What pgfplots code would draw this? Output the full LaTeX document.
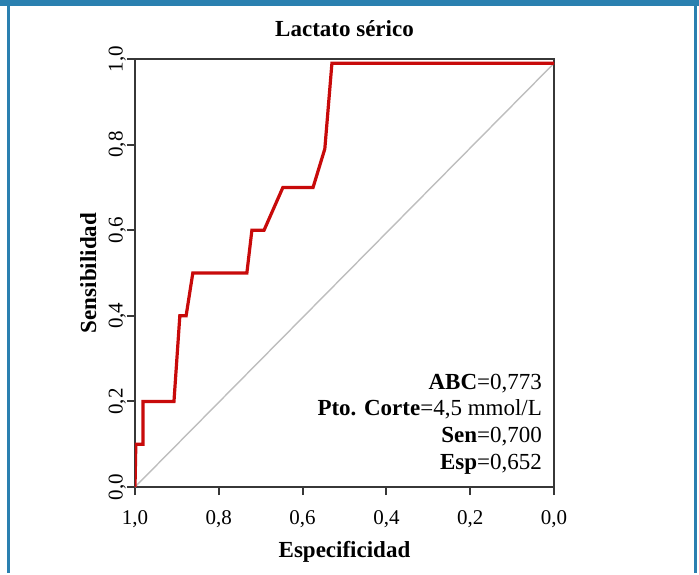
\documentclass[border=0pt]{standalone}
\usepackage{fontspec}
\setmainfont{Liberation Serif}
\usepackage{pgfplots}
\pgfplotsset{compat=1.18}
\definecolor{frameblue}{RGB}{42,128,176}
\definecolor{rocred}{RGB}{200,10,10}
\definecolor{axgray}{RGB}{55,55,55}
\begin{document}
\begin{tikzpicture}
\begin{axis}[
  scale only axis, width=209.5pt, height=214pt,
  x dir=reverse,
  xmin=0, xmax=1, ymin=0, ymax=1,
  xtick={0,0.2,0.4,0.6,0.8,1}, ytick={0,0.2,0.4,0.6,0.8,1},
  xticklabels={0{,}0,0{,}2,0{,}4,0{,}6,0{,}8,1{,}0},
  yticklabels={0{,}0,0{,}2,0{,}4,0{,}6,0{,}8,1{,}0},
  tick align=outside,
  tick pos=left,
  major tick length=4pt,
  tick style={axgray, line width=1pt},
  axis line style={axgray, line width=1pt},
  tick label style={font=\fontsize{10.5}{12}\selectfont},
  xticklabel style={anchor=north, yshift=-4pt},
  yticklabel style={rotate=90, anchor=south, yshift=-3pt},
  title={Lactato sérico},
  title style={at={(axis description cs:0.5,1.0257)}, anchor=base, font=\bfseries\fontsize{11.5}{13}\selectfont},
  xlabel={Especificidad},
  xlabel style={at={(axis description cs:0.5,-0.1636)}, anchor=base, font=\bfseries\fontsize{11.5}{13}\selectfont},
  ylabel={Sensibilidad},
  ylabel style={at={(axis description cs:-0.093,0.5)}, anchor=base, rotate=0, font=\bfseries\fontsize{11.5}{13}\selectfont},
]
\addplot[color={rgb,255:red,190;green,190;blue,190}, line width=0.7pt] coordinates {(1,0) (0,0.99)};
\addplot[rocred, line width=1.6pt, line join=miter] coordinates {
(1.000,0.000) (0.998,0.100) (0.981,0.100) (0.981,0.200) (0.907,0.200)
(0.893,0.400) (0.878,0.400) (0.862,0.500) (0.733,0.500) (0.721,0.600)
(0.692,0.600) (0.647,0.700) (0.575,0.700) (0.547,0.790) (0.530,0.990)
(0.000,0.990)};
\node[anchor=base east, font=\fontsize{11.5}{13}\selectfont] at (axis cs:0.012,0.227) {\textbf{ABC}=0,773};
\node[anchor=base east, font=\fontsize{11.5}{13}\selectfont] at (axis cs:0.012,0.166) {\textbf{Pto. Corte}=4,5 mmol/L};
\node[anchor=base east, font=\fontsize{11.5}{13}\selectfont] at (axis cs:0.012,0.103) {\textbf{Sen}=0,700};
\node[anchor=base east, font=\fontsize{11.5}{13}\selectfont] at (axis cs:0.012,0.040) {\textbf{Esp}=0,652};
\end{axis}
% frame (1px = 0.5pt), axis south west at (0,0)
\path (-67.5pt,-43pt) rectangle (282pt,243.5pt);
\fill[frameblue] (-67.5pt,240.5pt) rectangle (282pt,243.5pt);
\draw[frameblue, line width=1.5pt] (-63.25pt,-43pt) -- (-63.25pt,241pt);
\draw[frameblue, line width=1.5pt] (280.25pt,-43pt) -- (280.25pt,241pt);
\end{tikzpicture}
\end{document}
